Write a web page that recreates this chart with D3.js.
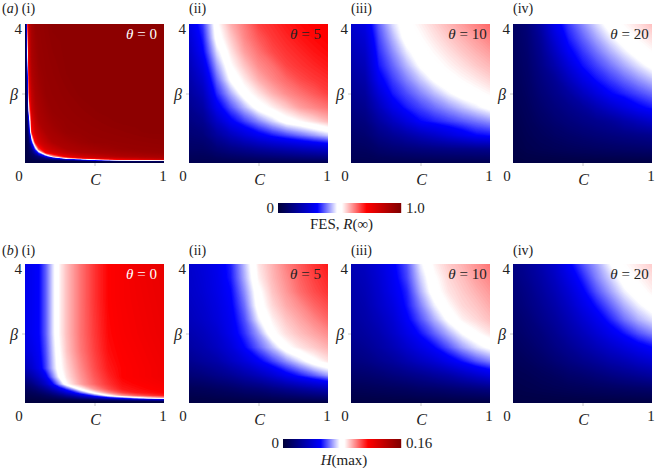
<!DOCTYPE html>
<html><head><meta charset="utf-8">
<script src="https://cdn.jsdelivr.net/npm/d3@7"></script>
<style>
body{margin:0;background:#fff;}
svg text{fill:#222;}
</style></head><body>
<svg id="chart" width="661" height="468"></svg>
<script>
// ---------- sample grids (C across, beta down from 4 to 0) ----------
const cCoarse = [0, 0.1, 0.2, 0.3, 0.4, 0.5, 0.6, 0.7, 0.8, 0.9, 1];
const bCoarse = [4, 3.6, 3.2, 2.8, 2.4, 2, 1.6, 1.2, 0.8, 0.4, 0];
const cFineA = [0, 0.01, 0.02, 0.03, 0.05, 0.075, 0.1, 0.15, 0.2, 0.3, 0.4, 0.5, 0.6, 0.7, 0.8, 0.9, 1];
const bFineA = [4, 3.5, 3, 2.5, 2, 1.5, 1.2, 0.9, 0.6, 0.4, 0.3, 0.2, 0.15, 0.1, 0.05, 0];
const cFineB = [0, 0.05, 0.1, 0.15, 0.2, 0.25, 0.3, 0.4, 0.5, 0.6, 0.7, 0.8, 0.9, 1];
const bFineB = [4, 3, 2, 1.5, 1, 0.75, 0.55, 0.4, 0.3, 0.22, 0.15, 0.1, 0.05, 0];

const thetas = [0, 5, 10, 20];
const romans = ["i", "ii", "iii", "iv"];
const xTickLabels = ["0", "1"];
const yTickLabel = "4";

// ---------- (a) final epidemic size R(inf) ----------
const fesTheta0 = [
[0.02,0.02,0.694,0.854,0.917,0.95,0.954,0.962,0.97,0.97,0.97,0.97,0.97,0.97,0.97,0.97,0.97],
[0.02,0.02,0.576,0.839,0.91,0.939,0.952,0.959,0.966,0.97,0.97,0.97,0.97,0.97,0.97,0.97,0.97],
[0.02,0.02,0.444,0.825,0.904,0.929,0.95,0.956,0.962,0.97,0.97,0.97,0.97,0.97,0.97,0.97,0.97],
[0.02,0.02,0.289,0.786,0.889,0.918,0.939,0.954,0.958,0.968,0.97,0.97,0.97,0.97,0.97,0.97,0.97],
[0.02,0.02,0.183,0.735,0.859,0.908,0.924,0.951,0.955,0.962,0.97,0.97,0.97,0.97,0.97,0.97,0.97],
[0.02,0.02,0.094,0.532,0.828,0.886,0.909,0.933,0.951,0.957,0.962,0.968,0.97,0.97,0.97,0.97,0.97],
[0.02,0.02,0.079,0.328,0.784,0.856,0.9,0.92,0.939,0.953,0.958,0.962,0.967,0.97,0.97,0.97,0.97],
[0.02,0.02,0.064,0.175,0.714,0.826,0.86,0.906,0.92,0.948,0.953,0.957,0.96,0.963,0.967,0.97,0.97],
[0.02,0.02,0.048,0.083,0.336,0.732,0.811,0.861,0.901,0.919,0.938,0.951,0.953,0.955,0.957,0.96,0.962],
[0.02,0.02,0.038,0.06,0.121,0.382,0.67,0.81,0.845,0.9,0.912,0.924,0.935,0.947,0.951,0.952,0.954],
[0.02,0.02,0.033,0.049,0.081,0.187,0.38,0.731,0.803,0.855,0.895,0.907,0.916,0.924,0.932,0.941,0.949],
[0.02,0.02,0.028,0.037,0.056,0.08,0.119,0.328,0.594,0.781,0.833,0.857,0.881,0.901,0.906,0.911,0.916],
[0.02,0.02,0.025,0.032,0.044,0.06,0.076,0.135,0.268,0.611,0.756,0.813,0.834,0.85,0.866,0.882,0.898],
[0.02,0.02,0.023,0.026,0.032,0.04,0.048,0.064,0.08,0.151,0.284,0.476,0.629,0.731,0.759,0.788,0.817],
[0.02,0.02,0.02,0.02,0.02,0.02,0.02,0.02,0.02,0.02,0.02,0.02,0.02,0.02,0.02,0.02,0.02],
[0.02,0.02,0.02,0.02,0.02,0.02,0.02,0.02,0.02,0.02,0.02,0.02,0.02,0.02,0.02,0.02,0.02]
];
const fesTheta5 = [
[0.27,0.356,0.513,0.582,0.625,0.67,0.686,0.702,0.714,0.722,0.73],
[0.248,0.337,0.498,0.56,0.614,0.65,0.676,0.691,0.705,0.715,0.722],
[0.226,0.316,0.46,0.539,0.595,0.63,0.662,0.68,0.692,0.705,0.714],
[0.204,0.28,0.421,0.517,0.566,0.61,0.632,0.666,0.68,0.691,0.702],
[0.182,0.245,0.383,0.487,0.536,0.582,0.614,0.638,0.662,0.676,0.686],
[0.16,0.209,0.344,0.429,0.506,0.541,0.58,0.61,0.63,0.65,0.67],
[0.138,0.174,0.295,0.371,0.437,0.502,0.53,0.561,0.595,0.614,0.63],
[0.116,0.139,0.228,0.308,0.359,0.406,0.454,0.501,0.523,0.548,0.575],
[0.094,0.106,0.162,0.214,0.26,0.302,0.335,0.363,0.391,0.419,0.449],
[0.072,0.073,0.1,0.123,0.142,0.161,0.178,0.194,0.209,0.223,0.235],
[0.04,0.04,0.04,0.04,0.04,0.04,0.04,0.04,0.04,0.04,0.04]
];
const fesTheta10 = [
[0.24,0.275,0.381,0.458,0.509,0.531,0.554,0.576,0.597,0.619,0.64],
[0.22,0.252,0.364,0.433,0.5,0.519,0.54,0.561,0.58,0.599,0.619],
[0.2,0.229,0.348,0.408,0.468,0.508,0.525,0.544,0.563,0.58,0.597],
[0.18,0.207,0.331,0.383,0.435,0.486,0.511,0.527,0.543,0.561,0.576],
[0.16,0.184,0.303,0.358,0.402,0.445,0.488,0.509,0.523,0.537,0.553],
[0.14,0.161,0.257,0.333,0.368,0.403,0.438,0.473,0.502,0.513,0.526],
[0.12,0.138,0.212,0.286,0.335,0.362,0.389,0.415,0.442,0.468,0.494],
[0.1,0.113,0.167,0.218,0.269,0.32,0.339,0.357,0.376,0.394,0.412],
[0.08,0.089,0.124,0.15,0.178,0.207,0.235,0.263,0.292,0.32,0.33],
[0.06,0.064,0.082,0.095,0.105,0.113,0.12,0.126,0.13,0.134,0.138],
[0.04,0.04,0.04,0.04,0.04,0.04,0.04,0.04,0.04,0.04,0.04]
];
const fesTheta20 = [
[0.068,0.101,0.18,0.293,0.357,0.407,0.456,0.502,0.524,0.546,0.57],
[0.063,0.094,0.156,0.257,0.336,0.38,0.424,0.468,0.505,0.525,0.546],
[0.058,0.087,0.14,0.221,0.308,0.353,0.392,0.431,0.469,0.504,0.521],
[0.054,0.08,0.126,0.185,0.26,0.327,0.36,0.393,0.427,0.46,0.493],
[0.049,0.073,0.112,0.149,0.213,0.276,0.328,0.356,0.384,0.412,0.44],
[0.044,0.066,0.099,0.129,0.165,0.217,0.267,0.317,0.341,0.364,0.387],
[0.039,0.058,0.085,0.109,0.132,0.157,0.197,0.236,0.274,0.311,0.333],
[0.034,0.051,0.071,0.09,0.107,0.123,0.138,0.154,0.182,0.209,0.235],
[0.03,0.044,0.057,0.07,0.081,0.092,0.102,0.111,0.12,0.129,0.137],
[0.025,0.037,0.044,0.05,0.056,0.061,0.066,0.071,0.075,0.079,0.083],
[0.02,0.02,0.02,0.02,0.02,0.02,0.02,0.02,0.02,0.02,0.02]
];

// ---------- (b) peak prevalence H(max) ----------
const hmaxTheta0 = [
[0.0464,0.048,0.0512,0.0608,0.0736,0.0848,0.0912,0.1008,0.1088,0.1152,0.1176,0.12,0.1216,0.1232],
[0.0464,0.048,0.0512,0.0608,0.0736,0.0848,0.0912,0.1008,0.1088,0.1152,0.1176,0.1192,0.1208,0.1224],
[0.0448,0.048,0.0512,0.0608,0.0736,0.0848,0.0912,0.1008,0.108,0.1144,0.1168,0.1184,0.12,0.1216],
[0.0416,0.0448,0.0496,0.0592,0.072,0.0832,0.0904,0.1,0.1072,0.1136,0.116,0.1176,0.1192,0.1208],
[0.032,0.0384,0.0464,0.0576,0.0704,0.0816,0.088,0.0976,0.1056,0.112,0.1152,0.1168,0.1184,0.12],
[0.0224,0.0288,0.0368,0.048,0.064,0.0784,0.0864,0.096,0.104,0.1104,0.1152,0.1168,0.1184,0.12],
[0.0144,0.0192,0.0272,0.0368,0.0512,0.0672,0.0832,0.0944,0.1024,0.1088,0.1136,0.1152,0.1168,0.1184],
[0.0096,0.0128,0.0176,0.024,0.0336,0.0448,0.056,0.0816,0.096,0.1056,0.112,0.1136,0.1152,0.1168],
[0.0072,0.0088,0.012,0.016,0.0224,0.0304,0.04,0.0608,0.0832,0.0976,0.1072,0.112,0.1136,0.1152],
[0.0056,0.0064,0.008,0.0104,0.0144,0.0192,0.0256,0.04,0.0592,0.0816,0.096,0.104,0.1088,0.112],
[0.0048,0.0048,0.0056,0.0072,0.0088,0.0112,0.0144,0.0224,0.032,0.0448,0.0576,0.072,0.0848,0.0928],
[0.0032,0.0032,0.004,0.0048,0.0056,0.0064,0.0072,0.0096,0.0128,0.016,0.0208,0.0256,0.0304,0.0352],
[0.0024,0.0024,0.0024,0.0024,0.0024,0.0024,0.0024,0.0032,0.004,0.0048,0.0056,0.0064,0.0072,0.008],
[0.0016,0.0016,0.0016,0.0016,0.0016,0.0016,0.0016,0.0016,0.0016,0.0016,0.0016,0.0016,0.0016,0.0016]
];
const hmaxTheta5 = [
[0.0384,0.0416,0.0464,0.0544,0.0704,0.0864,0.0928,0.0992,0.104,0.1088,0.112],
[0.0376,0.0408,0.0456,0.0536,0.0688,0.0848,0.092,0.0976,0.1032,0.1072,0.1104],
[0.0368,0.04,0.0448,0.0512,0.0656,0.0816,0.0904,0.096,0.1016,0.1056,0.1088],
[0.0352,0.0384,0.0432,0.0496,0.0624,0.08,0.088,0.0936,0.0976,0.1024,0.1056],
[0.0336,0.0368,0.0416,0.048,0.0592,0.0752,0.0848,0.0904,0.0944,0.0984,0.1024],
[0.0304,0.0336,0.0384,0.0464,0.056,0.0672,0.0816,0.0872,0.0912,0.0944,0.0976],
[0.0272,0.0304,0.0352,0.0416,0.0512,0.0608,0.0704,0.0816,0.0864,0.0896,0.0928],
[0.0224,0.0256,0.0288,0.0352,0.0416,0.0496,0.0576,0.0656,0.0736,0.0816,0.0864],
[0.016,0.0176,0.0208,0.024,0.0288,0.0336,0.04,0.048,0.0544,0.0608,0.0672],
[0.008,0.0088,0.0104,0.012,0.0144,0.016,0.0192,0.0224,0.0256,0.0288,0.032],
[0.0032,0.0032,0.0032,0.0032,0.0032,0.0032,0.0032,0.0032,0.0032,0.0032,0.0032]
];
const hmaxTheta10 = [
[0.032,0.0352,0.0416,0.0496,0.0592,0.0752,0.0848,0.0896,0.0928,0.0968,0.1008],
[0.0304,0.0336,0.04,0.048,0.0576,0.072,0.0824,0.088,0.0912,0.0952,0.0984],
[0.0288,0.032,0.0384,0.0464,0.0544,0.0688,0.0808,0.0864,0.0896,0.0928,0.096],
[0.0272,0.0304,0.0368,0.0432,0.0528,0.064,0.0752,0.0832,0.088,0.0904,0.0936],
[0.0256,0.0288,0.0336,0.04,0.0496,0.0592,0.0688,0.0784,0.0848,0.088,0.0912],
[0.024,0.0264,0.0304,0.0368,0.0448,0.0528,0.0608,0.0688,0.0768,0.0824,0.0864],
[0.0208,0.0232,0.0272,0.032,0.0384,0.0448,0.0512,0.0592,0.0672,0.0736,0.0784],
[0.0176,0.0192,0.0224,0.0256,0.0304,0.0352,0.04,0.0464,0.0528,0.0592,0.064],
[0.0128,0.0136,0.0152,0.0176,0.02,0.0224,0.0256,0.0288,0.0336,0.0384,0.0432],
[0.0072,0.008,0.0088,0.0096,0.0104,0.012,0.0128,0.0144,0.016,0.0176,0.0192],
[0.0032,0.0032,0.0032,0.0032,0.0032,0.0032,0.0032,0.0032,0.0032,0.0032,0.0032]
];
const hmaxTheta20 = [
[0.0192,0.024,0.0304,0.0384,0.0496,0.0592,0.0672,0.0768,0.0832,0.0864,0.0896],
[0.0176,0.0224,0.028,0.0352,0.0448,0.0544,0.064,0.072,0.08,0.084,0.0872],
[0.016,0.02,0.0256,0.032,0.04,0.0496,0.0592,0.0672,0.0752,0.0808,0.0848],
[0.0144,0.0184,0.0232,0.0288,0.036,0.0448,0.0528,0.0608,0.0688,0.0752,0.08],
[0.0128,0.016,0.0208,0.0256,0.032,0.0392,0.0464,0.0544,0.0624,0.0688,0.0736],
[0.0112,0.0144,0.0176,0.0224,0.028,0.0336,0.04,0.0464,0.0528,0.0592,0.064],
[0.0096,0.012,0.0152,0.0192,0.0232,0.028,0.0328,0.0376,0.0424,0.0472,0.0512],
[0.008,0.0096,0.012,0.0152,0.0184,0.0216,0.0248,0.0288,0.032,0.036,0.0392],
[0.0064,0.0072,0.0088,0.0104,0.0128,0.0144,0.0168,0.0192,0.0216,0.024,0.0264],
[0.0048,0.0056,0.0064,0.0072,0.008,0.0088,0.0096,0.0104,0.0112,0.012,0.0128],
[0.0032,0.0032,0.0032,0.0032,0.0032,0.0032,0.0032,0.0032,0.0032,0.0032,0.0032]
];

// colour stops as fractions of the colour-bar range
const stopFractions = [0, 0.32, 0.48, 0.52, 0.72, 1];
const stopColours = ["#000038", "#0000ff", "#ffffff", "#ffffff", "#ff0000", "#800000"];

// ---------- layout ----------
const FONT = "'Liberation Serif', 'Times New Roman', serif";
const svg = d3.select("#chart");
const PW = 139, PH = 139;
const panelLefts = [25, 189, 351, 513];
const rows = [
  { letter: "a", top: 24, labelY: 13, max: 1.0, maxLabel: "1.0",
    grids: [[cFineA, bFineA, fesTheta0], [cCoarse, bCoarse, fesTheta5], [cCoarse, bCoarse, fesTheta10], [cCoarse, bCoarse, fesTheta20]],
    bar: { x: 278, y: 203, w: 123, h: 10, titleY: 229, title: [["FES, ", false], ["R", true], ["(∞)", false]] } },
  { letter: "b", top: 264, labelY: 255, max: 0.16, maxLabel: "0.16",
    grids: [[cFineB, bFineB, hmaxTheta0], [cCoarse, bCoarse, hmaxTheta5], [cCoarse, bCoarse, hmaxTheta10], [cCoarse, bCoarse, hmaxTheta20]],
    bar: { x: 283, y: 439, w: 118, h: 9, titleY: 465, title: [["H", true], ["(max)", false]] } }
];

const defs = svg.append("defs");
let clipId = 0;
function txt(sel) { return sel.append("text").attr("font-family", FONT); }

rows.forEach((row, ri) => {
  const color = d3.scaleLinear()
    .domain(stopFractions.map(f => f * row.max))
    .range(stopColours)
    .clamp(true);
  const nLevels = 220;
  const thresholds = d3.range(nLevels).map(i => i * row.max / nLevels);

  row.grids.forEach(([cg, bg, z], pi) => {
    const left = panelLefts[pi], top = row.top;
    const x = d3.scaleLinear().domain([0, 1]).range([left, left + PW]);
    const y = d3.scaleLinear().domain([0, 4]).range([top + PH, top]);
    const gx = d3.scaleLinear().domain(cg.map((_, k) => k + 0.5)).range(cg).clamp(true);
    const gy = d3.scaleLinear().domain(bg.map((_, k) => k + 0.5)).range(bg).clamp(true);
    const path = d3.geoPath(d3.geoTransform({
      point: function (px, py) { this.stream.point(x(gx(px)), y(gy(py))); }
    }));
    const contours = d3.contours().size([cg.length, bg.length]).thresholds(thresholds)(z.flat());

    const id = "clip" + (clipId++);
    defs.append("clipPath").attr("id", id)
      .append("rect").attr("x", left).attr("y", top).attr("width", PW).attr("height", PH);

    svg.append("g").attr("clip-path", `url(#${id})`)
      .selectAll("path").data(contours).join("path")
      .attr("d", path)
      .attr("fill", d => color(d.value + row.max / nLevels / 2));

    // small tick marks
    svg.append("g").attr("transform", `translate(0,${top + PH})`)
      .call(d3.axisBottom(x).tickValues([0.5]).tickSize(3).tickFormat(""))
      .call(g => g.select(".domain").remove())
      .call(g => g.selectAll("line").attr("stroke", "#c8c8c8"));
    svg.append("g").attr("transform", `translate(${left},0)`)
      .call(d3.axisLeft(y).tickValues([2]).tickSize(3).tickFormat(""))
      .call(g => g.select(".domain").remove())
      .call(g => g.selectAll("line").attr("stroke", "#c8c8c8"));

    // tick labels
    txt(svg).attr("x", x(0) - 3).attr("y", y(4) + 10)
      .attr("text-anchor", "end").attr("font-size", 15).text(yTickLabel);
    txt(svg).attr("x", x(0) - 6).attr("y", y(0) + 17.5)
      .attr("text-anchor", "middle").attr("font-size", 15).text(xTickLabels[0]);
    txt(svg).attr("x", x(1) - 1).attr("y", y(0) + 17.5)
      .attr("text-anchor", "middle").attr("font-size", 15).text(xTickLabels[1]);
    txt(svg).attr("x", x(0.5) + 1).attr("y", y(0) + 22)
      .attr("text-anchor", "middle").attr("font-size", 16).attr("font-style", "italic").text("C");
    txt(svg).attr("x", x(0) - 7).attr("y", y(2) + 6)
      .attr("text-anchor", "end").attr("font-size", 16).attr("font-style", "italic").text("β");

    // theta label
    const tl = txt(svg).attr("x", left + 116.5).attr("y", top + 15)
      .attr("text-anchor", "middle").attr("font-size", 15)
      .style("fill", pi === 0 ? "#ffffff" : "#222");
    tl.append("tspan").attr("font-style", "italic").text("θ");
    tl.append("tspan").text(" = " + thetas[pi]);

    // panel label
    const pl = txt(svg).attr("y", row.labelY).attr("font-size", 14);
    if (pi === 0) {
      pl.attr("x", 2);
      pl.append("tspan").text("(");
      pl.append("tspan").attr("font-style", "italic").text(row.letter);
      pl.append("tspan").text(") (" + romans[pi] + ")");
    } else {
      pl.attr("x", left).text("(" + romans[pi] + ")");
    }
  });

  // colour bar
  const b = row.bar;
  const bx = d3.scaleLinear().domain([0, row.max]).range([b.x, b.x + b.w]);
  const steps = d3.range(b.w);
  svg.append("g").selectAll("rect").data(steps).join("rect")
    .attr("x", i => b.x + i).attr("y", b.y).attr("width", 1.2).attr("height", b.h)
    .attr("fill", i => color(bx.invert(b.x + i + 0.5)));
  txt(svg).attr("x", bx(0) - 4).attr("y", b.y + b.h - 0.5)
    .attr("text-anchor", "end").attr("font-size", 15).text("0");
  txt(svg).attr("x", bx(row.max) + 5).attr("y", b.y + b.h - 0.5)
    .attr("font-size", 15).text(row.maxLabel);
  const tt = txt(svg).attr("x", b.x + b.w / 2 + 2).attr("y", b.titleY)
    .attr("text-anchor", "middle").attr("font-size", 15);
  b.title.forEach(([s, it]) => tt.append("tspan").attr("font-style", it ? "italic" : null).text(s));
});
</script>
</body></html>
